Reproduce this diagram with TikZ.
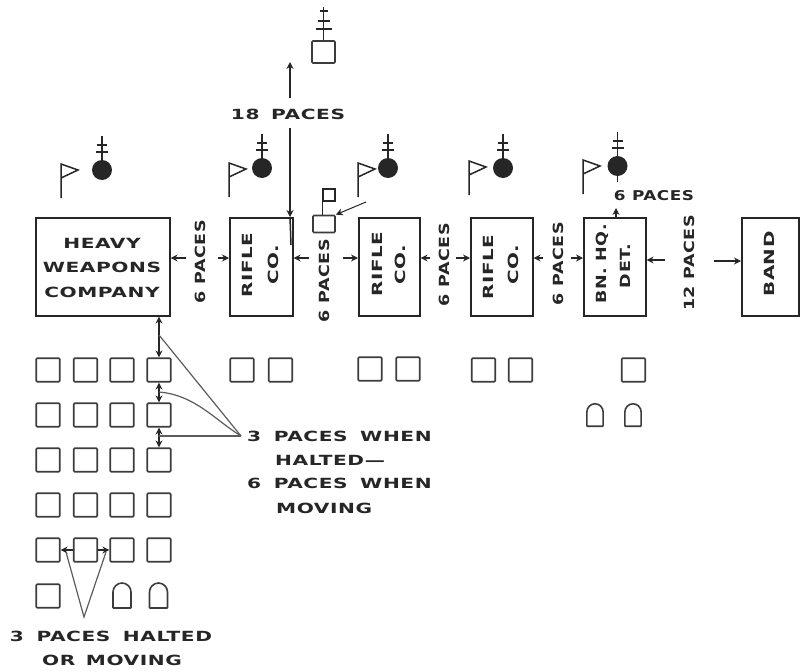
\documentclass[tikz,border=0pt]{standalone}
\usepackage{fontspec}
\newfontfamily\hlabfont[FakeStretch=1.44,LetterSpace=4]{DejaVu Sans}
\newfontfamily\vlabfont[FakeStretch=1.42,LetterSpace=4]{DejaVu Sans}
\newfontfamily\plabfont[FakeStretch=1.25,LetterSpace=4]{DejaVu Sans}
\usetikzlibrary{arrows.meta}
\definecolor{ink}{HTML}{262626}
\tikzset{
 ink line/.style={draw=ink,line width=1.5pt},
 bigbox/.style={draw=ink,line width=1.6pt,minimum width=#1,minimum height=98pt,inner sep=0pt,anchor=north west},
 sq/.style={draw=ink!90,line width=1.7pt,rounded corners=1pt,minimum size=23.5pt,inner sep=0pt},
 lab/.style={font=\hlabfont\bfseries\fontsize{14}{16}\selectfont,text=ink,inner sep=0pt},
 vlab/.style={font=\vlabfont\bfseries\fontsize{14}{16}\selectfont,text=ink,inner sep=0pt,rotate=90},
 plab/.style={font=\plabfont\bfseries\fontsize{14}{16}\selectfont,text=ink,inner sep=0pt,rotate=90},
 smalllab/.style={font=\plabfont\bfseries\fontsize{13.5}{16}\selectfont,text=ink,inner sep=0pt},
 pointer/.style={draw=ink,line width=1.3pt,-{Stealth[length=7pt,width=7pt]}},
 leader/.style={draw=ink!75,line width=1.2pt},
 arch shape/.pic={\draw[draw=ink!90,line width=1.6pt,rounded corners=0.5pt] (-9,12.5) -- (-9,-3) arc[start angle=180,end angle=360,x radius=9,y radius=9.5] -- (9,12.5) -- cycle;},
 ant/.pic={\draw[ink line] (0,0) -- (0,-24) (-5,-15) -- (5,-15) (-6,-8) -- (6,-8);},
 topant/.pic={\draw[ink line] (0,0) -- (0,-33) (-4,-29) -- (4,-29) (-6,-19) -- (6,-19) (-8,-11) -- (8,-11);},
 flagf/.pic={\draw[ink line] (0,34) -- (0,0) -- (17,6) -- (0,14);}
}
\begin{document}
\begin{tikzpicture}[x=1pt,y=-1pt]
\useasboundingbox[fill=white] (0,0) rectangle (804,672);
% main boxes
\node[bigbox=134pt] (hw) at (35,217) {};
\node[bigbox=63pt] (r1) at (229,217) {};
\node[bigbox=61pt] (r2) at (358,217) {};
\node[bigbox=62pt] (r3) at (470,217) {};
\node[bigbox=62pt] (bn) at (583,217) {};
\node[bigbox=57pt] (band) at (741,217) {};
% box texts
\node[lab] (t1) at (102,243) {HEAVY};
\node[lab] (t2) at (102,267) {WEAPONS};
\node[lab] (t3) at (102,292) {COMPANY};
\node[vlab] (t4) at (247,265) {RIFLE};
\node[vlab] (t5) at (273,265) {CO.};
\node[vlab] (t6) at (377,264) {RIFLE};
\node[vlab] (t7) at (400,265) {CO.};
\node[vlab] (t8) at (488,267) {RIFLE};
\node[vlab] (t9) at (513,265) {CO.};
\node[plab] (t10) at (602,264) {BN. HQ.};
\node[plab] (t11) at (625,266) {DET.};
\node[vlab] (t12) at (769,264) {BAND};
% spacing labels
\node[plab] (p1) at (200,262) {6 PACES};
\node[plab] (p2) at (324,281) {6 PACES};
\node[plab] (p3) at (444,265) {6 PACES};
\node[plab] (p4) at (558,264) {6 PACES};
\node[plab] (p5) at (689,263) {12 PACES};
\node[smalllab] (p6) at (654,196) {6 PACES};
\node[lab] (p7) at (288,114) {18\hspace{4pt} PACES};
\node[lab,anchor=west] (n1) at (247,436) {3\hspace{5pt} PACES\hspace{5pt} WHEN};
\node[lab,anchor=west] (n2) at (275,460) {HALTED—};
\node[lab,anchor=west] (n3) at (247,483) {6\hspace{5pt} PACES\hspace{5pt} WHEN};
\node[lab,anchor=west] (n4) at (276,508) {MOVING};
\node[lab] (n5) at (111,636) {3\hspace{5pt} PACES\hspace{5pt} HALTED};
\node[lab] (n6) at (112,660) {OR\hspace{3pt} MOVING};
% formation grid
\foreach \c/\x in {1/48,2/85.5,3/122,4/159}
 \foreach \r/\y in {1/370,2/415,3/460,4/505,5/550}
  \node[sq] (g\c\r) at (\x,\y) {};
\node[sq] (g16) at (48,596) {};
\pic at (122,595.5) {arch shape};
\pic at (158.5,595.5) {arch shape};
% squares under the companies
\node[sq] (s1) at (242,370) {};
\node[sq] (s2) at (280.5,370) {};
\node[sq] (s3) at (370,369) {};
\node[sq] (s4) at (408,369) {};
\node[sq] (s5) at (483.5,370) {};
\node[sq] (s6) at (520.5,370) {};
\node[sq] (s7) at (633.5,370) {};
\pic[scale=0.9] at (595,415) {arch shape};
\pic[scale=0.9] at (633,415) {arch shape};
% commander and guidon figures
\foreach \n/\x/\y in {a/102/170,b/262/168,c/388/168,d/503/168,e/617.5/166}{
 \node[circle,fill=ink,minimum size=20pt,inner sep=0pt] (\n) at (\x,\y) {};
 \pic at (\n.north) {ant};
}
\coordinate (etail) at (617.5,182);
\draw[ink line] (e.south) -- (etail);
\pic at (61,164) {flagf};
\pic at (229,163) {flagf};
\pic at (358,163) {flagf};
\pic at (469,161) {flagf};
\pic at (583,160) {flagf};
% top figure
\node[sq,minimum width=23pt,minimum height=22pt] (top) at (323.5,52) {};
\pic at (top.north) {topant};
% adjutant with flag
\node[sq,minimum width=22pt,minimum height=17pt] (adj) at (324,224) {};
\node[draw=ink,line width=1.2pt,minimum size=12pt,inner sep=0pt] (fl) at (329,195) {};
\draw[ink line,line width=1.2pt] (adj.north -| fl.west) -- (fl.west);
\coordinate (adjf) at (366,202);
\draw[pointer,line width=1pt] (adjf) -- (adj.north east);
% 18 paces arrows
\coordinate (u1) at (290,98);
\coordinate (u2) at (290,62);
\coordinate (d1) at (290,128);
\coordinate (d2) at (290,217);
\coordinate (d3) at (291,245);
\draw[pointer] (u1) -- (u2);
\draw[pointer] (d1) -- (d2);
\draw[ink line] (d2) -- (d3);
% 6 and 12 paces arrows
\foreach \f/\b/\x/\y in {h1/hw.east/186/258,h2/r1.west/218/258,h3/r1.east/309/258,h4/r2.west/343/258,h5/r2.east/430/258,h6/r3.west/456/258,h7/r3.east/543/258,h8/bn.west/571/258,h9/bn.east/665/260,h10/band.west/714/261}{
 \coordinate (\f) at (\x,\y);
 \draw[pointer] (\f) -- (\f -| \b);
}
\coordinate (bt) at (616,208);
\draw[pointer] (bn.north -| bt) -- (bt);
% vertical paces arrows
\coordinate (v1) at (159,335);
\coordinate (v2) at (159,392);
\coordinate (v3) at (159,436);
\draw[pointer] (v1) -- (v1 |- hw.south);
\draw[pointer] (v1) -- (g41.north);
\draw[pointer] (v2) -- (g41.south);
\draw[pointer] (v2) -- (g42.north);
\draw[pointer] (v3) -- (g42.south);
\draw[pointer] (v3) -- (g43.north);
\coordinate (ap) at (241,436);
\draw[leader] (ap) -- (v1);
\draw[leader] (ap) .. controls (215,420) and (195,395) .. (v2);
\draw[leader] (ap) -- (v3);
% horizontal 3 paces
\coordinate (ap2) at (84,617);
\draw[pointer] (g25.west) -- (g15.east);
\draw[pointer] (g25.east) -- (g35.west);
\coordinate (b1) at (66,552);
\coordinate (b2) at (106,552);
\draw[leader] (b1) -- (ap2) -- (b2);
\end{tikzpicture}
\end{document}
